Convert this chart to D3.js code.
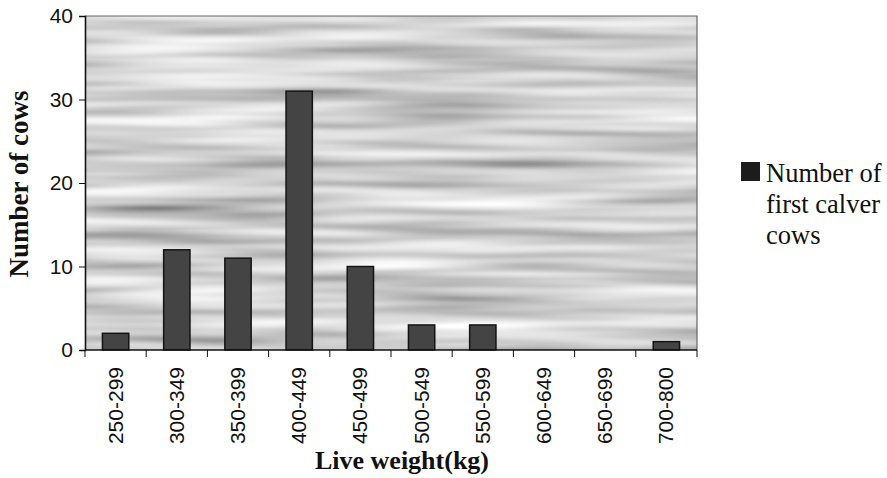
<!DOCTYPE html>
<html>
<head>
<meta charset="utf-8">
<script src="https://cdn.jsdelivr.net/npm/d3@7"></script>
<style>
  body { margin: 0; background: #fff; }
  svg { display: block; }
</style>
</head>
<body>
<svg id="chart" width="887" height="478"></svg>
<script>
// data
const weightClasses = ["250-299", "300-349", "350-399", "400-449", "450-499",
                       "500-549", "550-599", "600-649", "650-699", "700-800"];
const cowCounts = [2, 12, 11, 31, 10, 3, 3, 0, 0, 1];
const yTicks = [0, 10, 20, 30, 40];
const seriesName = ["Number of", "first calver", "cows"];

const margin = { top: 16, right: 190, bottom: 128, left: 85 };
const width = 887 - margin.left - margin.right;
const height = 478 - margin.top - margin.bottom;

const svg = d3.select("#chart");

// scanned grey streaky background
const defs = svg.append("defs");
const filt = defs.append("filter")
    .attr("id", "streaks")
    .attr("x", 0).attr("y", 0).attr("width", 1).attr("height", 1);
filt.append("feTurbulence")
    .attr("type", "fractalNoise")
    .attr("baseFrequency", "0.004 0.07")
    .attr("numOctaves", 2)
    .attr("seed", 7);
filt.append("feColorMatrix")
    .attr("type", "matrix")
    .attr("values", "1.1 0 0 0 0.09  1.1 0 0 0 0.09  1.1 0 0 0 0.09  0 0 0 0 1");

const g = svg.append("g")
    .attr("transform", `translate(${margin.left},${margin.top})`);

g.append("rect")
    .attr("width", width)
    .attr("height", height)
    .attr("fill", "#aaa")
    .attr("filter", "url(#streaks)");

// frame top/right
g.append("path")
    .attr("d", `M0,0H${width}V${height}`)
    .attr("fill", "none")
    .attr("stroke", "#666")
    .attr("stroke-width", 1.2);

const x = d3.scaleBand()
    .domain(weightClasses)
    .range([0, width])
    .paddingInner(0.57)
    .paddingOuter(0.285);

const xBound = d3.scaleLinear()
    .domain([0, weightClasses.length])
    .range([0, width]);

const y = d3.scaleLinear()
    .domain([0, 40])
    .range([height, 0]);

// bars
g.selectAll(".bar")
    .data(cowCounts)
    .join("rect")
    .attr("class", "bar")
    .attr("x", (d, i) => x(weightClasses[i]))
    .attr("y", d => y(d))
    .attr("width", x.bandwidth())
    .attr("height", d => y(0) - y(d))
    .attr("fill", "#444")
    .attr("stroke", "#141414")
    .attr("stroke-width", 1.5);

// y axis
const yAxis = g.append("g")
    .call(d3.axisLeft(y).tickValues(yTicks).tickSize(6).tickPadding(6));
yAxis.select(".domain").attr("stroke", "#111").attr("stroke-width", 1.6);
yAxis.selectAll(".tick line").attr("stroke", "#111");
yAxis.selectAll(".tick text")
    .attr("font-family", "Liberation Sans, Arial, sans-serif")
    .attr("font-size", 21)
    .attr("fill", "#111");

// x axis: ticks sit between categories
const xAxis = g.append("g")
    .attr("transform", `translate(0,${height})`);
xAxis.append("line")
    .attr("x1", 0).attr("x2", width)
    .attr("stroke", "#111").attr("stroke-width", 1.6);
xAxis.selectAll(".xtick")
    .data(d3.range(weightClasses.length + 1))
    .join("line")
    .attr("class", "xtick")
    .attr("x1", d => xBound(d)).attr("x2", d => xBound(d))
    .attr("y1", 0).attr("y2", 7)
    .attr("stroke", "#111");
xAxis.selectAll(".xlabel")
    .data(weightClasses)
    .join("text")
    .attr("class", "xlabel")
    .attr("transform", d => `translate(${x(d) + x.bandwidth() / 2 + 7},17) rotate(-90)`)
    .attr("text-anchor", "end")
    .attr("font-family", "Liberation Sans, Arial, sans-serif")
    .attr("font-size", 21)
    .attr("fill", "#111")
    .text(d => d);

// axis titles
svg.append("text")
    .attr("x", 402)
    .attr("y", 469)
    .attr("text-anchor", "middle")
    .attr("font-family", "Liberation Serif, Times New Roman, serif")
    .attr("font-weight", "bold")
    .attr("font-size", 26)
    .attr("fill", "#111")
    .text("Live weight(kg)");

svg.append("text")
    .attr("transform", "translate(28,184) rotate(-90)")
    .attr("text-anchor", "middle")
    .attr("font-family", "Liberation Serif, Times New Roman, serif")
    .attr("font-weight", "bold")
    .attr("font-size", 27)
    .attr("fill", "#111")
    .text("Number of cows");

// legend
const legend = svg.append("g").attr("transform", "translate(741,162)");
legend.append("rect")
    .attr("width", 19).attr("height", 19)
    .attr("fill", "#1c1c1c");
legend.selectAll("text")
    .data(seriesName)
    .join("text")
    .attr("x", 25)
    .attr("y", (d, i) => 20 + i * 31)
    .attr("font-family", "Liberation Serif, Times New Roman, serif")
    .attr("font-size", 26.5)
    .attr("fill", "#111")
    .text(d => d);
</script>
</body>
</html>
